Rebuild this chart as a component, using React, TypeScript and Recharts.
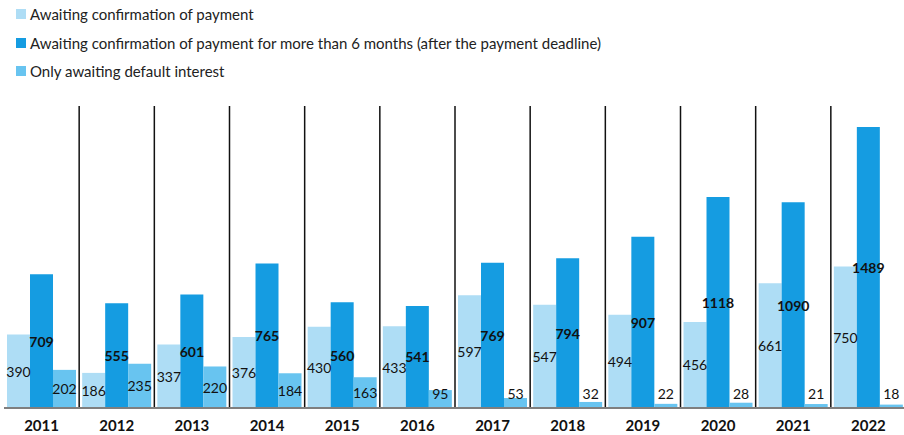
import { Bar, BarChart, CartesianGrid, LabelList, XAxis, YAxis } from "recharts";

const years = ["2011", "2012", "2013", "2014", "2015", "2016", "2017", "2018", "2019", "2020", "2021", "2022"];
const awaiting = [390, 186, 337, 376, 430, 433, 597, 547, 494, 456, 661, 750];
const awaitingOver6 = [709, 555, 601, 765, 560, 541, 769, 794, 907, 1118, 1090, 1489];
const defaultInterest = [202, 235, 220, 184, 163, 95, 53, 32, 22, 28, 21, 18];

const series = [
    { key: "awaiting", name: "Awaiting confirmation of payment", color: "#AEDDF5", bold: false },
    {
        key: "awaitingOver6",
        name: "Awaiting confirmation of payment for more than 6 months (after the payment deadline)",
        color: "#159CE1",
        bold: true,
    },
    { key: "defaultInterest", name: "Only awaiting default interest", color: "#68C4F0", bold: false },
];

const data = years.map((year, i) => ({
    year,
    awaiting: awaiting[i],
    awaitingOver6: awaitingOver6[i],
    defaultInterest: defaultInterest[i],
}));

const FONT = "Lato, 'Open Sans', sans-serif";

// label sits in the middle of the bar, but never lower than just above the base
const makeLabel = (bold: boolean) => (props: any) => {
    const { x, y, width, height, value } = props;
    const base = y + height;
    const cy = Math.min(y + height / 2, base - 15);
    return (
        <text
            x={x + width / 2}
            y={cy}
            textAnchor="middle"
            dominantBaseline="central"
            fontFamily={FONT}
            fontSize={14}
            fontWeight={bold ? 700 : 400}
            fill="#111"
        >
            {value}
        </text>
    );
};

const LegendBox = () => (
    <div style={{ position: "absolute", top: 0, left: 16, fontFamily: FONT, fontSize: 15, color: "#222" }}>
        {series.map((s) => (
            <div key={s.key} style={{ display: "flex", alignItems: "center", height: 28.5 }}>
                <span style={{ width: 10, height: 10, background: s.color, marginRight: 4, display: "inline-block" }} />
                <span>{s.name}</span>
            </div>
        ))}
    </div>
);

export default function App() {
    return (
        <div style={{ position: "relative", width: 904, height: 435, overflow: "hidden", background: "#fff" }}>
            <style>{"body { margin: 0; }"}</style>
            <LegendBox />
            <BarChart
                width={906}
                height={435}
                data={data}
                margin={{ top: 106, right: 0, left: 4, bottom: 0 }}
                barCategoryGap="4%"
                barGap={0}
            >
                <CartesianGrid
                    horizontal={false}
                    stroke="#111"
                    strokeWidth={1.5}
                    strokeOpacity={1}
                    verticalCoordinatesGenerator={({ offset }: any) =>
                        years.slice(1).map((_, i) => offset.left + ((i + 1) * offset.width) / years.length)
                    }
                />
                <XAxis
                    dataKey="year"
                    height={27}
                    axisLine={{ stroke: "#7f7f7f", strokeWidth: 2 }}
                    tickLine={false}
                    tickMargin={6}
                    tick={{ fill: "#111", fontSize: 15, fontWeight: 700, fontFamily: FONT }}
                />
                <YAxis
                    width={0}
                    domain={[0, 1600]}
                    tick={false}
                    tickLine={false}
                    axisLine={{ stroke: "#7f7f7f", strokeWidth: 2 }}
                />
                {series.map((s) => (
                    <Bar key={s.key} dataKey={s.key} name={s.name} fill={s.color} isAnimationActive={false}>
                        <LabelList dataKey={s.key} content={makeLabel(s.bold)} />
                    </Bar>
                ))}
            </BarChart>
        </div>
    );
}
